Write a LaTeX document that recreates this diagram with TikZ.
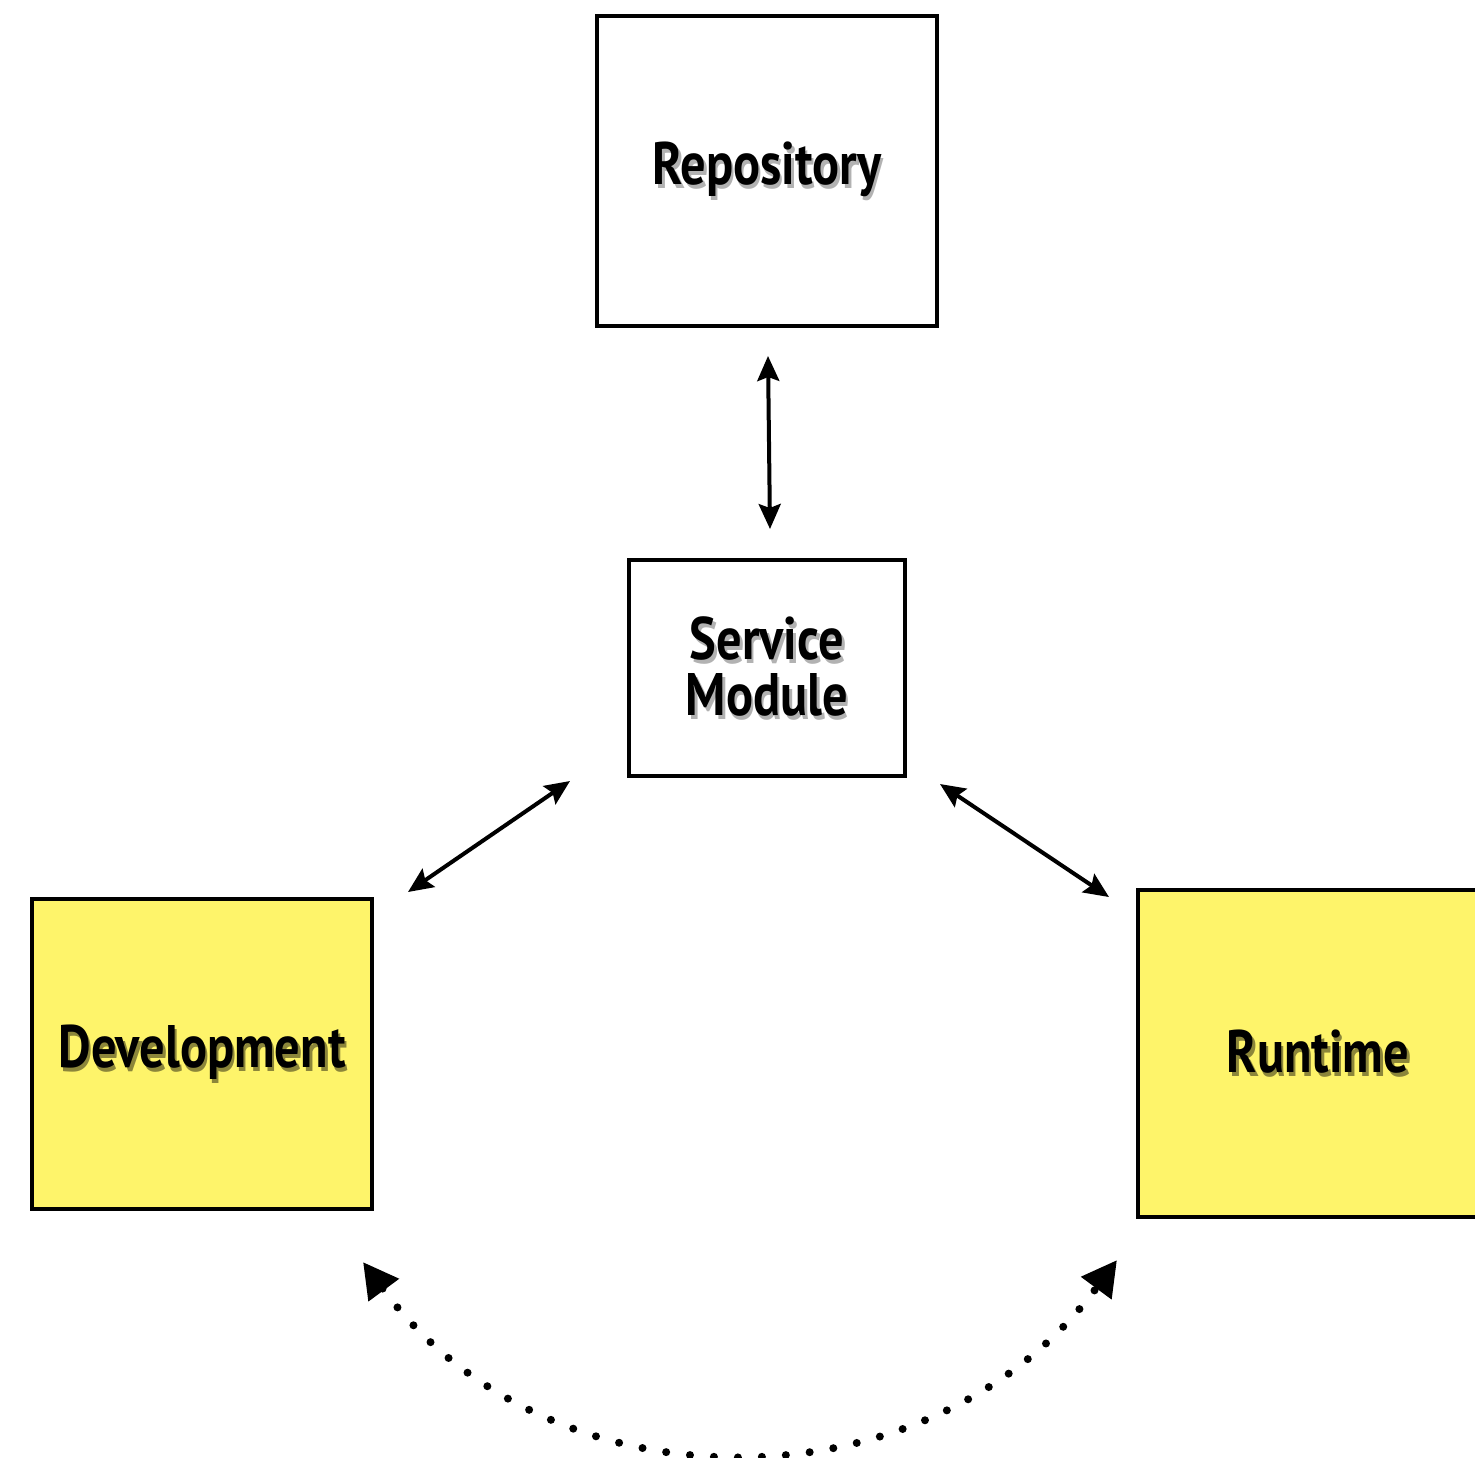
\documentclass[tikz,border=0pt]{standalone}
\usepackage{fontspec}
\usetikzlibrary{arrows.meta}
\newfontfamily\handfont[FakeStretch=0.84]{PT Sans}
\definecolor{sticky}{HTML}{FEF46A}
\newcommand{\shadowed}[2]{\makebox[0pt][l]{\kern2.5pt\raisebox{-4pt}{\textcolor{#1}{#2}}}#2}
\tikzset{
  box/.style={draw=black, line width=4pt, inner sep=0pt},
  lbl/.style={font=\handfont\bfseries\fontsize{60}{56}\selectfont, align=center, text=black, inner sep=0pt},
  twoway/.style={line width=4pt, {Stealth[length=25pt,width=22pt,inset=4pt]}-{Stealth[length=25pt,width=22pt,inset=4pt]}},
  dotty/.style={line width=8pt, line cap=round, dash pattern=on 0pt off 24pt,
     {Triangle[length=35pt,width=36pt]}-{Triangle[length=35pt,width=36pt]}}
}
\begin{document}
\begin{tikzpicture}[x=1pt,y=-1pt]
\useasboundingbox (0,0) rectangle (1475,1457);
% boxes
\node[box, minimum width=340pt, minimum height=310pt] (repo) at (767,171) {};
\node[box, minimum width=276pt, minimum height=216pt] (svc) at (767,668) {};
\node[box, fill=sticky, minimum width=340pt, minimum height=310pt] (dev) at (202,1054) {};
\node[box, fill=sticky, minimum width=360pt, minimum height=327pt] (run) at (1318,1053.5) {};
% labels
\node[lbl] (repot) at (repo) {\shadowed{black!30}{Repository}};
\node[lbl] (svct) at (svc) {\shadowed{black!30}{Service}\\\shadowed{black!30}{Module}};
\node[lbl] (devt) at (dev) {\shadowed{sticky!55!black}{Development}};
\node[lbl] (runt) at (run) {\shadowed{sticky!55!black}{Runtime}};
% connector ends
\coordinate (a1) at (768,356);
\coordinate (a2) at (770,529);
\coordinate (b1) at (570,781);
\coordinate (b2) at (408,892);
\coordinate (c1) at (940,784);
\coordinate (c2) at (1109,897);
\coordinate (d1) at (363,1262);
\coordinate (d2) at (1117,1260);
\draw[twoway] (a1) -- (a2);
\draw[twoway] (b1) -- (b2);
\draw[twoway] (c1) -- (c2);
\draw[dotty] (d1) .. controls (550,1515) and (930,1513) .. (d2);
\end{tikzpicture}
\end{document}
